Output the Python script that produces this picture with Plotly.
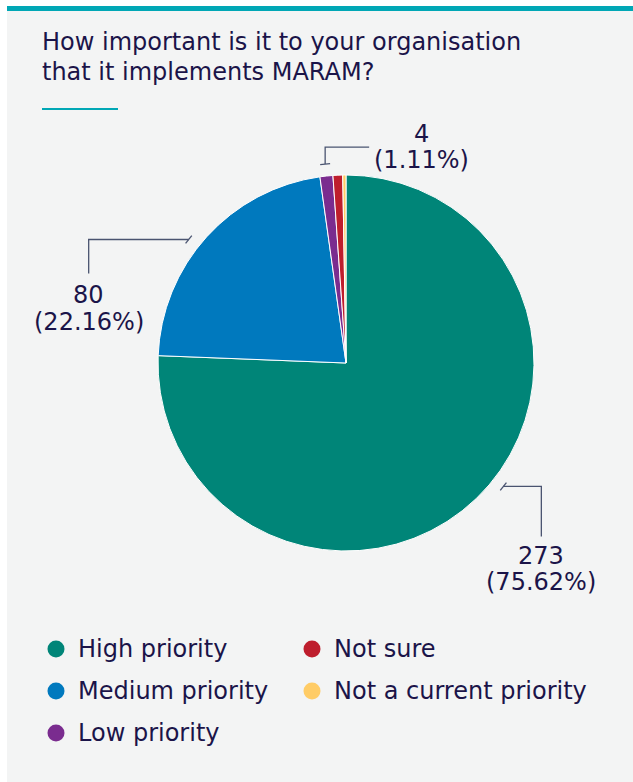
import math
import plotly.graph_objects as go

categories = ["High priority", "Medium priority", "Low priority", "Not sure", "Not a current priority"]
values = [273, 80, 4, 3, 1]
colors = ["#008578", "#0079BE", "#7A2C8F", "#BE1E2D", "#FFCC66"]
labelled = [0, 1, 2]             # slices that carry an outside label
label_angle_shift = [-8, -4, 0]  # degrees, where leader starts relative to slice middle

W, H = 633, 782
NAVY = "#1B1449"
FONT = "DejaVu Sans"
FS = 24

cx, cy, R = 346, 363, 188

def px(x):
    return x / W

def py(y):
    return 1 - y / H

fig = go.Figure()
fig.add_trace(go.Pie(
    labels=categories, values=values, sort=False, direction="clockwise", rotation=0,
    marker=dict(colors=colors, line=dict(color="white", width=1)),
    textinfo="none", hoverinfo="label+value+percent", showlegend=False,
    domain=dict(x=[px(cx - R), px(cx + R)], y=[py(cy + R), py(cy - R)]),
))

shapes = []
annotations = []

def text(t, x, y, size=FS, anchor="center"):
    annotations.append(dict(text=t, xref="paper", yref="paper", x=px(x), y=py(y),
                            xanchor=anchor, yanchor="middle", showarrow=False,
                            font=dict(family=FONT, size=size, color=NAVY)))

# background panel and top bar
shapes.append(dict(type="rect", xref="paper", yref="paper", x0=px(7), x1=1, y0=0, y1=py(11),
                   fillcolor="#F3F4F4", line=dict(width=0), layer="below"))
shapes.append(dict(type="rect", xref="paper", yref="paper", x0=px(7), x1=1, y0=py(11), y1=py(6),
                   fillcolor="#00A7B5", line=dict(width=0), layer="below"))
shapes.append(dict(type="line", xref="paper", yref="paper", x0=px(42), x1=px(118), y0=py(109), y1=py(109),
                   line=dict(color="#00A7B5", width=2)))

title_lines = ["How important is it to your organisation", "that it implements MARAM?"]
for k, t in enumerate(title_lines):
    text(t, 40, 42 + k * 29.5, FS, "left")

total = sum(values)
cum = 0
mids = []
for v in values:
    mids.append((cum + v / 2) / total * 2 * math.pi)
    cum += v

LINE = dict(color="#4A5470", width=1.3)
rl = 200
for i, sh in zip(labelled, label_angle_shift):
    a = mids[i] + math.radians(sh)
    tx, ty = cx + rl * math.sin(a), cy - rl * math.cos(a)
    tdx, tdy = math.cos(a), math.sin(a)
    shapes.append(dict(type="line", xref="paper", yref="paper",
                       x0=px(tx - 5 * tdx), y0=py(ty - 5 * tdy), x1=px(tx + 5 * tdx), y1=py(ty + 5 * tdy), line=LINE))
    pct = values[i] / total * 100
    l1, l2 = f"{values[i]}", f"({pct:.2f}%)"
    if math.sin(a) > 0 and math.cos(a) < 0:  # lower right
        ex = tx + 38
        shapes.append(dict(type="path", xref="paper", yref="paper",
                           path=f"M {px(tx)} {py(ty)} L {px(ex)} {py(ty)} L {px(ex)} {py(ty + 50)}", line=LINE))
        text(l1, ex, ty + 70)
        text(l2, ex, ty + 96)
    elif math.cos(a) > 0.95:  # near the top
        shapes.append(dict(type="path", xref="paper", yref="paper",
                           path=f"M {px(tx)} {py(ty)} L {px(tx)} {py(ty - 17)} L {px(tx + 44)} {py(ty - 17)}", line=LINE))
        text(l1, tx + 96, ty - 30)
        text(l2, tx + 96, ty - 4)
    else:  # upper left
        ex = tx - 100
        shapes.append(dict(type="path", xref="paper", yref="paper",
                           path=f"M {px(tx)} {py(ty)} L {px(ex)} {py(ty)} L {px(ex)} {py(ty + 34)}", line=LINE))
        text(l1, ex, ty + 55)
        text(l2, ex, ty + 82)

# legend (two columns, column-major)
rows = 3
for i, (c, col) in enumerate(zip(categories, colors)):
    colx = 56 if i < rows else 312
    rowy = 649 + (i % rows) * 42
    shapes.append(dict(type="circle", xref="paper", yref="paper",
                       x0=px(colx - 8.5), x1=px(colx + 8.5), y0=py(rowy + 8.5), y1=py(rowy - 8.5),
                       fillcolor=col, line=dict(width=0)))
    text(c, colx + 20, rowy, FS, "left")

fig.update_layout(width=W, height=H, margin=dict(l=0, r=0, t=0, b=0),
                  paper_bgcolor="white", plot_bgcolor="white",
                  shapes=shapes, annotations=annotations, showlegend=False)
fig.write_html("out.html")
